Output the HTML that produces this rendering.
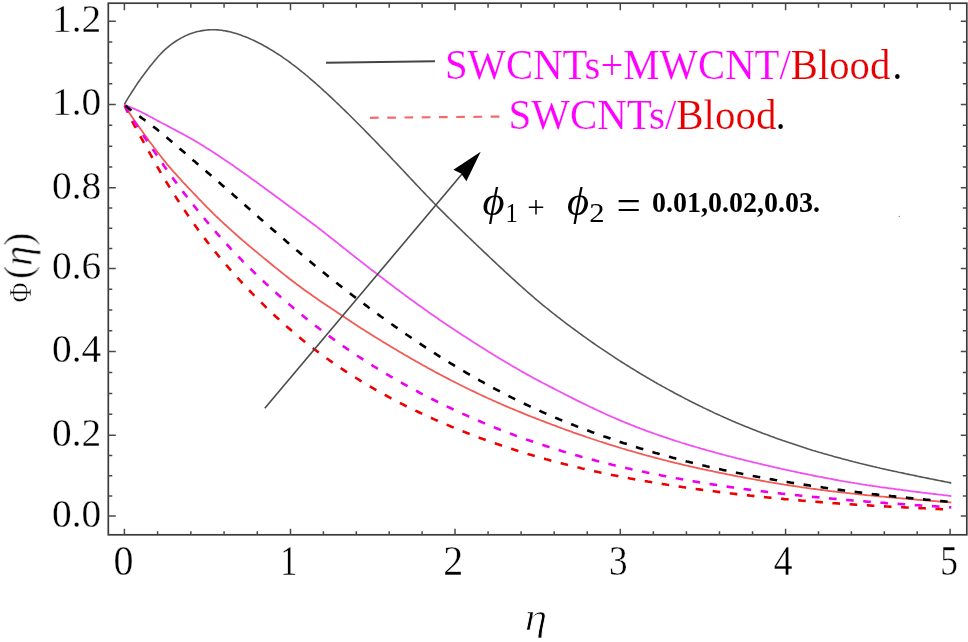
<!DOCTYPE html>
<html><head><meta charset="utf-8"><style>
html,body{margin:0;padding:0;background:#fff;overflow:hidden;}
svg{display:block;font-family:"Liberation Serif",serif;}
text{stroke:#fff;stroke-width:0.35px;}
#leg1,#leg2{stroke-width:0.2px;}
#ylab text{stroke-width:0.6px;}
#xlab{stroke-width:0.8px;}
#ann text{stroke-width:0.0px;}
</style></head><body><svg width="968" height="642" viewBox="0 0 968 642"><defs><filter id="bl" x="0" y="0" width="100%" height="100%"><feGaussianBlur stdDeviation="0.45"/></filter></defs><g filter="url(#bl)"><rect width="968" height="642" fill="#fff"/><rect x="108.3" y="3.2" width="858.5" height="531.5999999999999" fill="none" stroke="#3a3a3a" stroke-width="1.7"/><path d="M124.40,534.8 V528.80 M124.40,3.2 V10.20 M157.62,534.8 V531.30 M157.62,3.2 V7.70 M190.84,534.8 V531.30 M190.84,3.2 V7.70 M224.06,534.8 V531.30 M224.06,3.2 V7.70 M257.28,534.8 V531.30 M257.28,3.2 V7.70 M290.50,534.8 V528.80 M290.50,3.2 V10.20 M323.40,534.8 V531.30 M323.40,3.2 V7.70 M356.30,534.8 V531.30 M356.30,3.2 V7.70 M389.20,534.8 V531.30 M389.20,3.2 V7.70 M422.10,534.8 V531.30 M422.10,3.2 V7.70 M455.00,534.8 V528.80 M455.00,3.2 V10.20 M488.06,534.8 V531.30 M488.06,3.2 V7.70 M521.12,534.8 V531.30 M521.12,3.2 V7.70 M554.18,534.8 V531.30 M554.18,3.2 V7.70 M587.24,534.8 V531.30 M587.24,3.2 V7.70 M620.30,534.8 V528.80 M620.30,3.2 V10.20 M653.36,534.8 V531.30 M653.36,3.2 V7.70 M686.42,534.8 V531.30 M686.42,3.2 V7.70 M719.48,534.8 V531.30 M719.48,3.2 V7.70 M752.54,534.8 V531.30 M752.54,3.2 V7.70 M785.60,534.8 V528.80 M785.60,3.2 V10.20 M818.50,534.8 V531.30 M818.50,3.2 V7.70 M851.40,534.8 V531.30 M851.40,3.2 V7.70 M884.30,534.8 V531.30 M884.30,3.2 V7.70 M917.20,534.8 V531.30 M917.20,3.2 V7.70 M950.10,534.8 V528.80 M950.10,3.2 V10.20 M108.3,516.10 H115.80 M966.8,516.10 H960.80 M108.3,495.88 H112.30 M966.8,495.88 H962.80 M108.3,475.65 H112.30 M966.8,475.65 H962.80 M108.3,455.43 H112.30 M966.8,455.43 H962.80 M108.3,435.20 H115.80 M966.8,435.20 H960.80 M108.3,414.30 H112.30 M966.8,414.30 H962.80 M108.3,393.40 H112.30 M966.8,393.40 H962.80 M108.3,372.50 H112.30 M966.8,372.50 H962.80 M108.3,351.60 H115.80 M966.8,351.60 H960.80 M108.3,330.85 H112.30 M966.8,330.85 H962.80 M108.3,310.10 H112.30 M966.8,310.10 H962.80 M108.3,289.35 H112.30 M966.8,289.35 H962.80 M108.3,268.60 H115.80 M966.8,268.60 H960.80 M108.3,248.40 H112.30 M966.8,248.40 H962.80 M108.3,228.20 H112.30 M966.8,228.20 H962.80 M108.3,208.00 H112.30 M966.8,208.00 H962.80 M108.3,187.80 H115.80 M966.8,187.80 H960.80 M108.3,166.98 H112.30 M966.8,166.98 H962.80 M108.3,146.15 H112.30 M966.8,146.15 H962.80 M108.3,125.33 H112.30 M966.8,125.33 H962.80 M108.3,104.50 H115.80 M966.8,104.50 H960.80 M108.3,83.70 H112.30 M966.8,83.70 H962.80 M108.3,62.90 H112.30 M966.8,62.90 H962.80 M108.3,42.10 H112.30 M966.8,42.10 H962.80 M108.3,21.30 H115.80 M966.8,21.30 H960.80" stroke="#4a4a4a" stroke-width="1.5" fill="none"/><path id="black_solid" d="M124.4,104.5 L125.9,101.7 L127.4,99.1 L128.9,96.7 L130.4,94.3 L131.9,92.0 L133.4,89.7 L134.9,87.3 L136.4,85.1 L137.9,82.8 L139.4,80.7 L140.9,78.6 L142.4,76.6 L143.9,74.5 L145.4,72.5 L146.9,70.5 L148.4,68.6 L149.9,66.6 L151.4,64.7 L152.9,62.9 L154.4,61.1 L155.9,59.3 L157.4,57.5 L158.9,55.8 L160.4,54.2 L161.9,52.6 L163.4,51.1 L164.9,49.7 L166.4,48.4 L167.9,47.1 L169.4,45.8 L170.9,44.7 L172.4,43.6 L173.9,42.5 L175.4,41.5 L176.9,40.5 L178.4,39.6 L179.9,38.7 L181.4,37.9 L182.9,37.1 L184.4,36.3 L185.9,35.6 L187.4,34.9 L188.9,34.3 L190.4,33.7 L191.9,33.2 L193.4,32.7 L194.9,32.3 L196.4,31.8 L197.9,31.5 L199.4,31.2 L200.9,30.9 L202.4,30.6 L203.9,30.4 L205.4,30.2 L206.9,30.0 L208.4,29.9 L209.9,29.8 L211.4,29.8 L212.9,29.7 L214.4,29.8 L215.9,29.8 L217.4,29.9 L218.9,30.0 L220.4,30.2 L221.9,30.3 L223.4,30.6 L224.9,30.8 L226.4,31.1 L227.9,31.4 L229.4,31.7 L230.9,32.1 L232.4,32.5 L233.9,32.9 L235.4,33.3 L236.9,33.8 L238.4,34.3 L239.9,34.8 L241.4,35.3 L242.9,35.9 L244.4,36.4 L245.9,37.0 L247.4,37.6 L248.9,38.3 L250.4,38.9 L251.9,39.6 L253.4,40.3 L254.9,41.0 L256.4,41.7 L257.9,42.5 L259.4,43.3 L260.9,44.0 L262.4,44.8 L263.9,45.7 L265.4,46.5 L266.9,47.3 L268.4,48.2 L269.9,49.1 L271.4,50.0 L272.9,50.9 L274.4,51.8 L275.9,52.8 L277.4,53.8 L278.9,54.7 L280.4,55.7 L281.9,56.7 L283.4,57.8 L284.9,58.8 L286.4,59.9 L287.9,60.9 L289.4,62.0 L290.9,63.1 L292.4,64.3 L293.9,65.4 L295.4,66.5 L296.9,67.7 L298.4,68.9 L299.9,70.1 L301.4,71.3 L302.9,72.5 L304.4,73.7 L305.9,75.0 L307.4,76.2 L308.9,77.5 L310.4,78.8 L311.9,80.1 L313.4,81.4 L314.9,82.7 L316.4,84.0 L317.9,85.4 L319.4,86.7 L320.9,88.0 L322.4,89.4 L323.9,90.8 L325.4,92.1 L326.9,93.5 L328.4,94.9 L329.9,96.3 L331.4,97.7 L332.9,99.1 L334.4,100.5 L335.9,102.0 L337.4,103.4 L338.9,104.8 L340.4,106.3 L341.9,107.7 L343.4,109.2 L344.9,110.6 L346.4,112.1 L347.9,113.5 L349.4,115.0 L350.9,116.5 L352.4,118.0 L353.9,119.5 L355.4,121.0 L356.9,122.5 L358.4,124.0 L359.9,125.5 L361.4,127.0 L362.9,128.5 L364.4,130.0 L365.9,131.6 L367.4,133.1 L368.9,134.6 L370.4,136.2 L371.9,137.7 L373.4,139.3 L374.9,140.8 L376.4,142.4 L377.9,143.9 L379.4,145.5 L380.9,147.1 L382.4,148.6 L383.9,150.2 L385.4,151.8 L386.9,153.3 L388.4,154.9 L389.9,156.5 L391.4,158.1 L392.9,159.7 L394.4,161.2 L395.9,162.8 L397.4,164.4 L398.9,166.0 L400.4,167.6 L401.9,169.2 L403.4,170.8 L404.9,172.4 L406.4,174.0 L407.9,175.6 L409.4,177.2 L410.9,178.8 L412.4,180.4 L413.9,182.0 L415.4,183.6 L416.9,185.2 L418.4,186.8 L419.9,188.4 L421.4,190.0 L422.9,191.5 L424.4,193.1 L425.9,194.7 L427.4,196.2 L428.9,197.8 L430.4,199.4 L431.9,200.9 L433.4,202.5 L434.9,204.0 L436.4,205.5 L437.9,207.1 L439.4,208.6 L440.9,210.1 L442.4,211.6 L443.9,213.1 L445.4,214.6 L446.9,216.1 L448.4,217.6 L449.9,219.0 L451.4,220.5 L452.9,222.0 L454.4,223.4 L455.9,224.9 L457.4,226.4 L458.9,227.8 L460.4,229.3 L461.9,230.7 L463.4,232.2 L464.9,233.6 L466.4,235.1 L467.9,236.5 L469.4,238.0 L470.9,239.4 L472.4,240.8 L473.9,242.3 L475.4,243.7 L476.9,245.2 L478.4,246.6 L479.9,248.0 L481.4,249.4 L482.9,250.9 L484.4,252.3 L485.9,253.7 L487.4,255.1 L488.9,256.5 L490.4,258.0 L491.9,259.4 L493.4,260.8 L494.9,262.2 L496.4,263.6 L497.9,265.0 L499.4,266.4 L500.9,267.8 L502.4,269.2 L503.9,270.6 L505.4,272.0 L506.9,273.3 L508.4,274.7 L509.9,276.1 L511.4,277.5 L512.9,278.9 L514.4,280.2 L515.9,281.6 L517.4,282.9 L518.9,284.3 L520.4,285.7 L521.9,287.0 L523.4,288.3 L524.9,289.7 L526.4,291.0 L527.9,292.3 L529.4,293.6 L530.9,294.9 L532.4,296.2 L533.9,297.5 L535.4,298.8 L536.9,300.1 L538.4,301.3 L539.9,302.6 L541.4,303.8 L542.9,305.1 L544.4,306.3 L545.9,307.5 L547.4,308.7 L548.9,309.9 L550.4,311.2 L551.9,312.3 L553.4,313.5 L554.9,314.7 L556.4,315.9 L557.9,317.1 L559.4,318.2 L560.9,319.4 L562.4,320.5 L563.9,321.7 L565.4,322.8 L566.9,324.0 L568.4,325.1 L569.9,326.2 L571.4,327.3 L572.9,328.4 L574.4,329.5 L575.9,330.6 L577.4,331.7 L578.9,332.8 L580.4,333.9 L581.9,335.0 L583.4,336.1 L584.9,337.2 L586.4,338.2 L587.9,339.3 L589.4,340.4 L590.9,341.4 L592.4,342.5 L593.9,343.5 L595.4,344.6 L596.9,345.6 L598.4,346.6 L599.9,347.7 L601.4,348.7 L602.9,349.7 L604.4,350.7 L605.9,351.7 L607.4,352.7 L608.9,353.7 L610.4,354.7 L611.9,355.7 L613.4,356.7 L614.9,357.7 L616.4,358.6 L617.9,359.6 L619.4,360.6 L620.9,361.5 L622.4,362.5 L623.9,363.4 L625.4,364.4 L626.9,365.3 L628.4,366.2 L629.9,367.2 L631.4,368.1 L632.9,369.0 L634.4,369.9 L635.9,370.8 L637.4,371.8 L638.9,372.7 L640.4,373.6 L641.9,374.5 L643.4,375.4 L644.9,376.2 L646.4,377.1 L647.9,378.0 L649.4,378.9 L650.9,379.8 L652.4,380.6 L653.9,381.5 L655.4,382.4 L656.9,383.2 L658.4,384.1 L659.9,384.9 L661.4,385.8 L662.9,386.6 L664.4,387.4 L665.9,388.3 L667.4,389.1 L668.9,389.9 L670.4,390.7 L671.9,391.5 L673.4,392.3 L674.9,393.2 L676.4,394.0 L677.9,394.8 L679.4,395.5 L680.9,396.3 L682.4,397.1 L683.9,397.9 L685.4,398.7 L686.9,399.4 L688.4,400.2 L689.9,401.0 L691.4,401.7 L692.9,402.5 L694.4,403.2 L695.9,404.0 L697.4,404.7 L698.9,405.5 L700.4,406.2 L701.9,406.9 L703.4,407.7 L704.9,408.4 L706.4,409.1 L707.9,409.8 L709.4,410.5 L710.9,411.2 L712.4,411.9 L713.9,412.7 L715.4,413.4 L716.9,414.0 L718.4,414.7 L719.9,415.4 L721.4,416.1 L722.9,416.8 L724.4,417.5 L725.9,418.1 L727.4,418.8 L728.9,419.5 L730.4,420.1 L731.9,420.8 L733.4,421.4 L734.9,422.0 L736.4,422.7 L737.9,423.3 L739.4,423.9 L740.9,424.6 L742.4,425.2 L743.9,425.8 L745.4,426.4 L746.9,427.0 L748.4,427.6 L749.9,428.2 L751.4,428.8 L752.9,429.4 L754.4,430.0 L755.9,430.6 L757.4,431.2 L758.9,431.7 L760.4,432.3 L761.9,432.9 L763.4,433.5 L764.9,434.0 L766.4,434.6 L767.9,435.1 L769.4,435.7 L770.9,436.3 L772.4,436.8 L773.9,437.3 L775.4,437.9 L776.9,438.4 L778.4,439.0 L779.9,439.5 L781.4,440.0 L782.9,440.6 L784.4,441.1 L785.9,441.6 L787.4,442.1 L788.9,442.6 L790.4,443.1 L791.9,443.6 L793.4,444.1 L794.9,444.6 L796.4,445.1 L797.9,445.6 L799.4,446.1 L800.9,446.6 L802.4,447.1 L803.9,447.6 L805.4,448.0 L806.9,448.5 L808.4,449.0 L809.9,449.4 L811.4,449.9 L812.9,450.4 L814.4,450.8 L815.9,451.3 L817.4,451.7 L818.9,452.2 L820.4,452.6 L821.9,453.0 L823.4,453.5 L824.9,453.9 L826.4,454.3 L827.9,454.8 L829.4,455.2 L830.9,455.6 L832.4,456.0 L833.9,456.5 L835.4,456.9 L836.9,457.3 L838.4,457.7 L839.9,458.1 L841.4,458.5 L842.9,458.9 L844.4,459.3 L845.9,459.7 L847.4,460.1 L848.9,460.5 L850.4,460.9 L851.9,461.3 L853.4,461.7 L854.9,462.0 L856.4,462.4 L857.9,462.8 L859.4,463.2 L860.9,463.5 L862.4,463.9 L863.9,464.3 L865.4,464.6 L866.9,465.0 L868.4,465.4 L869.9,465.7 L871.4,466.1 L872.9,466.4 L874.4,466.8 L875.9,467.1 L877.4,467.5 L878.9,467.8 L880.4,468.2 L881.9,468.5 L883.4,468.9 L884.9,469.2 L886.4,469.5 L887.9,469.9 L889.4,470.2 L890.9,470.5 L892.4,470.9 L893.9,471.2 L895.4,471.5 L896.9,471.8 L898.4,472.2 L899.9,472.5 L901.4,472.8 L902.9,473.1 L904.4,473.4 L905.9,473.8 L907.4,474.1 L908.9,474.4 L910.4,474.7 L911.9,475.0 L913.4,475.3 L914.9,475.6 L916.4,475.9 L917.9,476.3 L919.4,476.6 L920.9,476.9 L922.4,477.2 L923.9,477.5 L925.4,477.8 L926.9,478.1 L928.4,478.4 L929.9,478.7 L931.4,479.0 L932.9,479.3 L934.4,479.6 L935.9,479.9 L937.4,480.2 L938.9,480.5 L940.4,480.8 L941.9,481.1 L943.4,481.4 L944.9,481.7 L946.4,482.0 L947.9,482.3 L949.4,482.6 L950.9,482.9 L951.3,482.9" stroke="#555555" stroke-width="1.6" fill="none" stroke-linejoin="round"/><path id="magenta_solid" d="M124.4,104.5 L125.9,105.2 L127.4,105.9 L128.9,106.5 L130.4,107.2 L131.9,107.8 L133.4,108.4 L134.9,109.1 L136.4,109.8 L137.9,110.4 L139.4,111.1 L140.9,111.8 L142.4,112.6 L143.9,113.3 L145.4,114.1 L146.9,114.9 L148.4,115.7 L149.9,116.5 L151.4,117.3 L152.9,118.1 L154.4,119.0 L155.9,119.8 L157.4,120.6 L158.9,121.4 L160.4,122.2 L161.9,123.0 L163.4,123.7 L164.9,124.5 L166.4,125.3 L167.9,126.1 L169.4,126.9 L170.9,127.7 L172.4,128.5 L173.9,129.3 L175.4,130.1 L176.9,130.9 L178.4,131.7 L179.9,132.5 L181.4,133.3 L182.9,134.1 L184.4,135.0 L185.9,135.8 L187.4,136.6 L188.9,137.5 L190.4,138.3 L191.9,139.1 L193.4,140.0 L194.9,140.9 L196.4,141.7 L197.9,142.6 L199.4,143.5 L200.9,144.4 L202.4,145.3 L203.9,146.3 L205.4,147.2 L206.9,148.2 L208.4,149.1 L209.9,150.1 L211.4,151.1 L212.9,152.0 L214.4,153.0 L215.9,154.0 L217.4,155.0 L218.9,156.0 L220.4,157.0 L221.9,158.0 L223.4,159.0 L224.9,160.0 L226.4,161.0 L227.9,162.0 L229.4,163.0 L230.9,164.1 L232.4,165.1 L233.9,166.1 L235.4,167.2 L236.9,168.2 L238.4,169.3 L239.9,170.3 L241.4,171.4 L242.9,172.4 L244.4,173.5 L245.9,174.6 L247.4,175.6 L248.9,176.7 L250.4,177.8 L251.9,178.9 L253.4,179.9 L254.9,181.0 L256.4,182.1 L257.9,183.2 L259.4,184.3 L260.9,185.4 L262.4,186.5 L263.9,187.6 L265.4,188.7 L266.9,189.8 L268.4,190.9 L269.9,192.0 L271.4,193.1 L272.9,194.2 L274.4,195.3 L275.9,196.4 L277.4,197.5 L278.9,198.6 L280.4,199.7 L281.9,200.8 L283.4,202.0 L284.9,203.1 L286.4,204.2 L287.9,205.3 L289.4,206.4 L290.9,207.5 L292.4,208.6 L293.9,209.7 L295.4,210.8 L296.9,211.9 L298.4,213.0 L299.9,214.2 L301.4,215.3 L302.9,216.4 L304.4,217.5 L305.9,218.6 L307.4,219.7 L308.9,220.8 L310.4,221.9 L311.9,223.0 L313.4,224.2 L314.9,225.3 L316.4,226.4 L317.9,227.6 L319.4,228.7 L320.9,229.9 L322.4,231.1 L323.9,232.2 L325.4,233.4 L326.9,234.6 L328.4,235.8 L329.9,237.0 L331.4,238.2 L332.9,239.3 L334.4,240.5 L335.9,241.7 L337.4,242.9 L338.9,244.1 L340.4,245.3 L341.9,246.5 L343.4,247.7 L344.9,248.9 L346.4,250.1 L347.9,251.3 L349.4,252.5 L350.9,253.7 L352.4,254.9 L353.9,256.1 L355.4,257.2 L356.9,258.4 L358.4,259.6 L359.9,260.8 L361.4,261.9 L362.9,263.1 L364.4,264.2 L365.9,265.4 L367.4,266.6 L368.9,267.7 L370.4,268.9 L371.9,270.0 L373.4,271.2 L374.9,272.3 L376.4,273.5 L377.9,274.6 L379.4,275.8 L380.9,276.9 L382.4,278.1 L383.9,279.2 L385.4,280.4 L386.9,281.5 L388.4,282.7 L389.9,283.8 L391.4,285.0 L392.9,286.1 L394.4,287.2 L395.9,288.4 L397.4,289.5 L398.9,290.6 L400.4,291.7 L401.9,292.8 L403.4,293.9 L404.9,295.1 L406.4,296.2 L407.9,297.3 L409.4,298.4 L410.9,299.5 L412.4,300.6 L413.9,301.6 L415.4,302.7 L416.9,303.8 L418.4,304.9 L419.9,306.0 L421.4,307.1 L422.9,308.1 L424.4,309.2 L425.9,310.3 L427.4,311.3 L428.9,312.4 L430.4,313.4 L431.9,314.5 L433.4,315.5 L434.9,316.6 L436.4,317.6 L437.9,318.6 L439.4,319.7 L440.9,320.7 L442.4,321.7 L443.9,322.7 L445.4,323.7 L446.9,324.7 L448.4,325.8 L449.9,326.8 L451.4,327.8 L452.9,328.8 L454.4,329.8 L455.9,330.7 L457.4,331.7 L458.9,332.7 L460.4,333.7 L461.9,334.7 L463.4,335.7 L464.9,336.6 L466.4,337.6 L467.9,338.6 L469.4,339.5 L470.9,340.5 L472.4,341.5 L473.9,342.4 L475.4,343.4 L476.9,344.3 L478.4,345.3 L479.9,346.2 L481.4,347.2 L482.9,348.1 L484.4,349.1 L485.9,350.0 L487.4,350.9 L488.9,351.9 L490.4,352.8 L491.9,353.7 L493.4,354.7 L494.9,355.6 L496.4,356.5 L497.9,357.4 L499.4,358.3 L500.9,359.2 L502.4,360.1 L503.9,361.0 L505.4,361.9 L506.9,362.8 L508.4,363.7 L509.9,364.6 L511.4,365.5 L512.9,366.4 L514.4,367.2 L515.9,368.1 L517.4,369.0 L518.9,369.8 L520.4,370.7 L521.9,371.6 L523.4,372.4 L524.9,373.2 L526.4,374.1 L527.9,374.9 L529.4,375.7 L530.9,376.5 L532.4,377.4 L533.9,378.2 L535.4,379.0 L536.9,379.8 L538.4,380.6 L539.9,381.4 L541.4,382.2 L542.9,383.0 L544.4,383.7 L545.9,384.5 L547.4,385.3 L548.9,386.1 L550.4,386.9 L551.9,387.6 L553.4,388.4 L554.9,389.2 L556.4,390.0 L557.9,390.7 L559.4,391.5 L560.9,392.3 L562.4,393.0 L563.9,393.8 L565.4,394.6 L566.9,395.3 L568.4,396.1 L569.9,396.8 L571.4,397.6 L572.9,398.4 L574.4,399.1 L575.9,399.9 L577.4,400.6 L578.9,401.4 L580.4,402.1 L581.9,402.8 L583.4,403.6 L584.9,404.3 L586.4,405.0 L587.9,405.8 L589.4,406.5 L590.9,407.2 L592.4,407.9 L593.9,408.6 L595.4,409.3 L596.9,410.0 L598.4,410.7 L599.9,411.4 L601.4,412.1 L602.9,412.8 L604.4,413.5 L605.9,414.2 L607.4,414.9 L608.9,415.5 L610.4,416.2 L611.9,416.8 L613.4,417.5 L614.9,418.1 L616.4,418.8 L617.9,419.4 L619.4,420.1 L620.9,420.7 L622.4,421.3 L623.9,422.0 L625.4,422.6 L626.9,423.2 L628.4,423.8 L629.9,424.4 L631.4,425.0 L632.9,425.6 L634.4,426.2 L635.9,426.8 L637.4,427.4 L638.9,427.9 L640.4,428.5 L641.9,429.1 L643.4,429.6 L644.9,430.2 L646.4,430.8 L647.9,431.3 L649.4,431.9 L650.9,432.4 L652.4,432.9 L653.9,433.5 L655.4,434.0 L656.9,434.5 L658.4,435.1 L659.9,435.6 L661.4,436.1 L662.9,436.6 L664.4,437.1 L665.9,437.6 L667.4,438.1 L668.9,438.6 L670.4,439.1 L671.9,439.6 L673.4,440.1 L674.9,440.6 L676.4,441.1 L677.9,441.5 L679.4,442.0 L680.9,442.5 L682.4,443.0 L683.9,443.4 L685.4,443.9 L686.9,444.3 L688.4,444.8 L689.9,445.3 L691.4,445.7 L692.9,446.2 L694.4,446.6 L695.9,447.0 L697.4,447.5 L698.9,447.9 L700.4,448.4 L701.9,448.8 L703.4,449.2 L704.9,449.6 L706.4,450.1 L707.9,450.5 L709.4,450.9 L710.9,451.3 L712.4,451.7 L713.9,452.1 L715.4,452.6 L716.9,453.0 L718.4,453.4 L719.9,453.8 L721.4,454.2 L722.9,454.6 L724.4,455.0 L725.9,455.4 L727.4,455.8 L728.9,456.1 L730.4,456.5 L731.9,456.9 L733.4,457.3 L734.9,457.7 L736.4,458.1 L737.9,458.5 L739.4,458.8 L740.9,459.2 L742.4,459.6 L743.9,460.0 L745.4,460.3 L746.9,460.7 L748.4,461.1 L749.9,461.4 L751.4,461.8 L752.9,462.2 L754.4,462.5 L755.9,462.9 L757.4,463.2 L758.9,463.6 L760.4,463.9 L761.9,464.3 L763.4,464.7 L764.9,465.0 L766.4,465.4 L767.9,465.7 L769.4,466.0 L770.9,466.4 L772.4,466.7 L773.9,467.1 L775.4,467.4 L776.9,467.8 L778.4,468.1 L779.9,468.4 L781.4,468.8 L782.9,469.1 L784.4,469.4 L785.9,469.8 L787.4,470.1 L788.9,470.4 L790.4,470.8 L791.9,471.1 L793.4,471.4 L794.9,471.7 L796.4,472.0 L797.9,472.4 L799.4,472.7 L800.9,473.0 L802.4,473.3 L803.9,473.6 L805.4,473.9 L806.9,474.2 L808.4,474.5 L809.9,474.9 L811.4,475.2 L812.9,475.5 L814.4,475.8 L815.9,476.1 L817.4,476.4 L818.9,476.7 L820.4,476.9 L821.9,477.2 L823.4,477.5 L824.9,477.8 L826.4,478.1 L827.9,478.4 L829.4,478.7 L830.9,478.9 L832.4,479.2 L833.9,479.5 L835.4,479.8 L836.9,480.0 L838.4,480.3 L839.9,480.6 L841.4,480.9 L842.9,481.1 L844.4,481.4 L845.9,481.6 L847.4,481.9 L848.9,482.1 L850.4,482.4 L851.9,482.7 L853.4,482.9 L854.9,483.2 L856.4,483.4 L857.9,483.6 L859.4,483.9 L860.9,484.1 L862.4,484.4 L863.9,484.6 L865.4,484.8 L866.9,485.1 L868.4,485.3 L869.9,485.5 L871.4,485.7 L872.9,486.0 L874.4,486.2 L875.9,486.4 L877.4,486.6 L878.9,486.8 L880.4,487.1 L881.9,487.3 L883.4,487.5 L884.9,487.7 L886.4,487.9 L887.9,488.1 L889.4,488.3 L890.9,488.5 L892.4,488.7 L893.9,488.9 L895.4,489.1 L896.9,489.3 L898.4,489.5 L899.9,489.7 L901.4,489.9 L902.9,490.1 L904.4,490.3 L905.9,490.5 L907.4,490.7 L908.9,490.9 L910.4,491.1 L911.9,491.3 L913.4,491.5 L914.9,491.6 L916.4,491.8 L917.9,492.0 L919.4,492.2 L920.9,492.4 L922.4,492.6 L923.9,492.8 L925.4,492.9 L926.9,493.1 L928.4,493.3 L929.9,493.5 L931.4,493.7 L932.9,493.8 L934.4,494.0 L935.9,494.2 L937.4,494.4 L938.9,494.6 L940.4,494.7 L941.9,494.9 L943.4,495.1 L944.9,495.3 L946.4,495.4 L947.9,495.6 L949.4,495.8 L950.9,496.0 L951.3,496.0" stroke="#f24ff2" stroke-width="1.8" fill="none" stroke-linejoin="round"/><path id="red_solid" d="M124.4,104.5 L125.9,107.3 L127.4,109.9 L128.9,112.3 L130.4,114.6 L131.9,116.8 L133.4,119.0 L134.9,121.1 L136.4,123.2 L137.9,125.3 L139.4,127.4 L140.9,129.5 L142.4,131.6 L143.9,133.7 L145.4,135.8 L146.9,137.8 L148.4,139.9 L149.9,142.0 L151.4,144.0 L152.9,146.0 L154.4,148.0 L155.9,150.0 L157.4,152.0 L158.9,153.9 L160.4,155.8 L161.9,157.7 L163.4,159.6 L164.9,161.4 L166.4,163.3 L167.9,165.1 L169.4,166.8 L170.9,168.6 L172.4,170.3 L173.9,172.1 L175.4,173.7 L176.9,175.4 L178.4,177.1 L179.9,178.7 L181.4,180.3 L182.9,182.0 L184.4,183.6 L185.9,185.2 L187.4,186.8 L188.9,188.3 L190.4,189.9 L191.9,191.5 L193.4,193.1 L194.9,194.6 L196.4,196.2 L197.9,197.8 L199.4,199.4 L200.9,200.9 L202.4,202.5 L203.9,204.1 L205.4,205.6 L206.9,207.2 L208.4,208.7 L209.9,210.2 L211.4,211.7 L212.9,213.2 L214.4,214.6 L215.9,216.1 L217.4,217.5 L218.9,218.9 L220.4,220.3 L221.9,221.7 L223.4,223.1 L224.9,224.5 L226.4,225.8 L227.9,227.2 L229.4,228.6 L230.9,229.9 L232.4,231.3 L233.9,232.6 L235.4,234.0 L236.9,235.3 L238.4,236.6 L239.9,238.0 L241.4,239.3 L242.9,240.6 L244.4,241.8 L245.9,243.1 L247.4,244.4 L248.9,245.7 L250.4,246.9 L251.9,248.2 L253.4,249.4 L254.9,250.7 L256.4,251.9 L257.9,253.1 L259.4,254.4 L260.9,255.6 L262.4,256.9 L263.9,258.1 L265.4,259.3 L266.9,260.5 L268.4,261.8 L269.9,263.0 L271.4,264.2 L272.9,265.5 L274.4,266.7 L275.9,267.9 L277.4,269.1 L278.9,270.3 L280.4,271.5 L281.9,272.7 L283.4,273.9 L284.9,275.1 L286.4,276.3 L287.9,277.5 L289.4,278.7 L290.9,279.8 L292.4,281.0 L293.9,282.1 L295.4,283.2 L296.9,284.4 L298.4,285.5 L299.9,286.6 L301.4,287.7 L302.9,288.8 L304.4,289.9 L305.9,290.9 L307.4,292.0 L308.9,293.1 L310.4,294.1 L311.9,295.2 L313.4,296.2 L314.9,297.3 L316.4,298.3 L317.9,299.4 L319.4,300.4 L320.9,301.4 L322.4,302.5 L323.9,303.5 L325.4,304.5 L326.9,305.5 L328.4,306.6 L329.9,307.6 L331.4,308.6 L332.9,309.6 L334.4,310.6 L335.9,311.6 L337.4,312.6 L338.9,313.6 L340.4,314.6 L341.9,315.6 L343.4,316.6 L344.9,317.6 L346.4,318.6 L347.9,319.6 L349.4,320.6 L350.9,321.6 L352.4,322.6 L353.9,323.5 L355.4,324.5 L356.9,325.5 L358.4,326.4 L359.9,327.4 L361.4,328.4 L362.9,329.3 L364.4,330.3 L365.9,331.2 L367.4,332.2 L368.9,333.1 L370.4,334.1 L371.9,335.0 L373.4,335.9 L374.9,336.9 L376.4,337.8 L377.9,338.7 L379.4,339.6 L380.9,340.6 L382.4,341.5 L383.9,342.4 L385.4,343.3 L386.9,344.2 L388.4,345.1 L389.9,346.0 L391.4,346.9 L392.9,347.8 L394.4,348.7 L395.9,349.6 L397.4,350.5 L398.9,351.4 L400.4,352.3 L401.9,353.1 L403.4,354.0 L404.9,354.9 L406.4,355.8 L407.9,356.6 L409.4,357.5 L410.9,358.4 L412.4,359.2 L413.9,360.1 L415.4,360.9 L416.9,361.8 L418.4,362.6 L419.9,363.5 L421.4,364.3 L422.9,365.2 L424.4,366.0 L425.9,366.8 L427.4,367.7 L428.9,368.5 L430.4,369.3 L431.9,370.1 L433.4,370.9 L434.9,371.8 L436.4,372.6 L437.9,373.4 L439.4,374.2 L440.9,375.0 L442.4,375.8 L443.9,376.6 L445.4,377.3 L446.9,378.1 L448.4,378.9 L449.9,379.7 L451.4,380.5 L452.9,381.2 L454.4,382.0 L455.9,382.8 L457.4,383.5 L458.9,384.3 L460.4,385.0 L461.9,385.8 L463.4,386.5 L464.9,387.3 L466.4,388.0 L467.9,388.7 L469.4,389.5 L470.9,390.2 L472.4,390.9 L473.9,391.6 L475.4,392.3 L476.9,393.1 L478.4,393.8 L479.9,394.5 L481.4,395.2 L482.9,395.9 L484.4,396.6 L485.9,397.3 L487.4,398.0 L488.9,398.6 L490.4,399.3 L491.9,400.0 L493.4,400.7 L494.9,401.3 L496.4,402.0 L497.9,402.7 L499.4,403.3 L500.9,404.0 L502.4,404.6 L503.9,405.3 L505.4,405.9 L506.9,406.6 L508.4,407.2 L509.9,407.9 L511.4,408.5 L512.9,409.1 L514.4,409.7 L515.9,410.4 L517.4,411.0 L518.9,411.6 L520.4,412.2 L521.9,412.8 L523.4,413.4 L524.9,414.1 L526.4,414.7 L527.9,415.3 L529.4,415.9 L530.9,416.5 L532.4,417.1 L533.9,417.6 L535.4,418.2 L536.9,418.8 L538.4,419.4 L539.9,420.0 L541.4,420.6 L542.9,421.1 L544.4,421.7 L545.9,422.3 L547.4,422.9 L548.9,423.4 L550.4,424.0 L551.9,424.6 L553.4,425.1 L554.9,425.7 L556.4,426.2 L557.9,426.8 L559.4,427.4 L560.9,427.9 L562.4,428.5 L563.9,429.0 L565.4,429.6 L566.9,430.1 L568.4,430.6 L569.9,431.2 L571.4,431.7 L572.9,432.3 L574.4,432.8 L575.9,433.3 L577.4,433.8 L578.9,434.4 L580.4,434.9 L581.9,435.4 L583.4,435.9 L584.9,436.4 L586.4,437.0 L587.9,437.5 L589.4,438.0 L590.9,438.5 L592.4,439.0 L593.9,439.5 L595.4,440.0 L596.9,440.5 L598.4,441.0 L599.9,441.5 L601.4,441.9 L602.9,442.4 L604.4,442.9 L605.9,443.4 L607.4,443.9 L608.9,444.3 L610.4,444.8 L611.9,445.3 L613.4,445.7 L614.9,446.2 L616.4,446.7 L617.9,447.1 L619.4,447.6 L620.9,448.0 L622.4,448.5 L623.9,448.9 L625.4,449.4 L626.9,449.8 L628.4,450.3 L629.9,450.7 L631.4,451.1 L632.9,451.6 L634.4,452.0 L635.9,452.4 L637.4,452.9 L638.9,453.3 L640.4,453.7 L641.9,454.1 L643.4,454.6 L644.9,455.0 L646.4,455.4 L647.9,455.8 L649.4,456.2 L650.9,456.6 L652.4,457.0 L653.9,457.4 L655.4,457.8 L656.9,458.2 L658.4,458.6 L659.9,459.0 L661.4,459.4 L662.9,459.8 L664.4,460.1 L665.9,460.5 L667.4,460.9 L668.9,461.3 L670.4,461.7 L671.9,462.0 L673.4,462.4 L674.9,462.8 L676.4,463.1 L677.9,463.5 L679.4,463.8 L680.9,464.2 L682.4,464.6 L683.9,464.9 L685.4,465.3 L686.9,465.6 L688.4,466.0 L689.9,466.3 L691.4,466.6 L692.9,467.0 L694.4,467.3 L695.9,467.7 L697.4,468.0 L698.9,468.3 L700.4,468.7 L701.9,469.0 L703.4,469.3 L704.9,469.6 L706.4,470.0 L707.9,470.3 L709.4,470.6 L710.9,470.9 L712.4,471.2 L713.9,471.6 L715.4,471.9 L716.9,472.2 L718.4,472.5 L719.9,472.8 L721.4,473.1 L722.9,473.4 L724.4,473.7 L725.9,474.0 L727.4,474.3 L728.9,474.6 L730.4,474.9 L731.9,475.2 L733.4,475.5 L734.9,475.8 L736.4,476.1 L737.9,476.4 L739.4,476.6 L740.9,476.9 L742.4,477.2 L743.9,477.5 L745.4,477.8 L746.9,478.1 L748.4,478.3 L749.9,478.6 L751.4,478.9 L752.9,479.2 L754.4,479.4 L755.9,479.7 L757.4,480.0 L758.9,480.2 L760.4,480.5 L761.9,480.8 L763.4,481.0 L764.9,481.3 L766.4,481.6 L767.9,481.8 L769.4,482.1 L770.9,482.3 L772.4,482.6 L773.9,482.8 L775.4,483.1 L776.9,483.3 L778.4,483.6 L779.9,483.8 L781.4,484.1 L782.9,484.3 L784.4,484.6 L785.9,484.8 L787.4,485.0 L788.9,485.3 L790.4,485.5 L791.9,485.7 L793.4,486.0 L794.9,486.2 L796.4,486.4 L797.9,486.6 L799.4,486.9 L800.9,487.1 L802.4,487.3 L803.9,487.5 L805.4,487.7 L806.9,488.0 L808.4,488.2 L809.9,488.4 L811.4,488.6 L812.9,488.8 L814.4,489.0 L815.9,489.2 L817.4,489.4 L818.9,489.6 L820.4,489.8 L821.9,490.0 L823.4,490.2 L824.9,490.4 L826.4,490.6 L827.9,490.8 L829.4,491.0 L830.9,491.1 L832.4,491.3 L833.9,491.5 L835.4,491.7 L836.9,491.9 L838.4,492.0 L839.9,492.2 L841.4,492.4 L842.9,492.6 L844.4,492.7 L845.9,492.9 L847.4,493.1 L848.9,493.2 L850.4,493.4 L851.9,493.6 L853.4,493.7 L854.9,493.9 L856.4,494.1 L857.9,494.2 L859.4,494.4 L860.9,494.5 L862.4,494.7 L863.9,494.8 L865.4,495.0 L866.9,495.1 L868.4,495.3 L869.9,495.4 L871.4,495.6 L872.9,495.7 L874.4,495.9 L875.9,496.0 L877.4,496.2 L878.9,496.3 L880.4,496.5 L881.9,496.6 L883.4,496.7 L884.9,496.9 L886.4,497.0 L887.9,497.2 L889.4,497.3 L890.9,497.4 L892.4,497.6 L893.9,497.7 L895.4,497.8 L896.9,498.0 L898.4,498.1 L899.9,498.2 L901.4,498.4 L902.9,498.5 L904.4,498.6 L905.9,498.7 L907.4,498.9 L908.9,499.0 L910.4,499.1 L911.9,499.3 L913.4,499.4 L914.9,499.5 L916.4,499.6 L917.9,499.8 L919.4,499.9 L920.9,500.0 L922.4,500.1 L923.9,500.2 L925.4,500.4 L926.9,500.5 L928.4,500.6 L929.9,500.7 L931.4,500.9 L932.9,501.0 L934.4,501.1 L935.9,501.2 L937.4,501.3 L938.9,501.5 L940.4,501.6 L941.9,501.7 L943.4,501.8 L944.9,501.9 L946.4,502.1 L947.9,502.2 L949.4,502.3 L950.9,502.4 L951.3,502.4" stroke="#f25a55" stroke-width="1.8" fill="none" stroke-linejoin="round"/><path id="red_dashed" d="M124.4,104.5 L125.9,108.3 L127.4,111.7 L128.9,114.9 L130.4,118.0 L131.9,120.9 L133.4,123.7 L134.9,126.5 L136.4,129.2 L137.9,132.0 L139.4,134.6 L140.9,137.3 L142.4,140.0 L143.9,142.6 L145.4,145.3 L146.9,148.0 L148.4,150.7 L149.9,153.4 L151.4,156.1 L152.9,158.8 L154.4,161.5 L155.9,164.2 L157.4,166.9 L158.9,169.5 L160.4,172.1 L161.9,174.6 L163.4,177.2 L164.9,179.6 L166.4,182.1 L167.9,184.5 L169.4,186.9 L170.9,189.3 L172.4,191.7 L173.9,194.1 L175.4,196.4 L176.9,198.7 L178.4,201.0 L179.9,203.3 L181.4,205.6 L182.9,207.9 L184.4,210.1 L185.9,212.3 L187.4,214.5 L188.9,216.7 L190.4,218.9 L191.9,221.0 L193.4,223.1 L194.9,225.2 L196.4,227.3 L197.9,229.4 L199.4,231.4 L200.9,233.5 L202.4,235.5 L203.9,237.5 L205.4,239.4 L206.9,241.4 L208.4,243.3 L209.9,245.2 L211.4,247.1 L212.9,249.0 L214.4,250.9 L215.9,252.7 L217.4,254.5 L218.9,256.4 L220.4,258.1 L221.9,259.9 L223.4,261.7 L224.9,263.5 L226.4,265.2 L227.9,266.9 L229.4,268.6 L230.9,270.3 L232.4,272.0 L233.9,273.7 L235.4,275.4 L236.9,277.0 L238.4,278.7 L239.9,280.3 L241.4,282.0 L242.9,283.6 L244.4,285.2 L245.9,286.8 L247.4,288.4 L248.9,290.0 L250.4,291.5 L251.9,293.1 L253.4,294.6 L254.9,296.2 L256.4,297.7 L257.9,299.2 L259.4,300.7 L260.9,302.2 L262.4,303.7 L263.9,305.2 L265.4,306.7 L266.9,308.1 L268.4,309.6 L269.9,311.0 L271.4,312.4 L272.9,313.9 L274.4,315.3 L275.9,316.7 L277.4,318.0 L278.9,319.4 L280.4,320.8 L281.9,322.2 L283.4,323.5 L284.9,324.8 L286.4,326.2 L287.9,327.5 L289.4,328.8 L290.9,330.1 L292.4,331.4 L293.9,332.7 L295.4,334.0 L296.9,335.2 L298.4,336.5 L299.9,337.7 L301.4,339.0 L302.9,340.2 L304.4,341.4 L305.9,342.6 L307.4,343.8 L308.9,345.0 L310.4,346.2 L311.9,347.3 L313.4,348.5 L314.9,349.6 L316.4,350.8 L317.9,351.9 L319.4,353.0 L320.9,354.1 L322.4,355.2 L323.9,356.3 L325.4,357.4 L326.9,358.5 L328.4,359.5 L329.9,360.6 L331.4,361.6 L332.9,362.7 L334.4,363.7 L335.9,364.7 L337.4,365.8 L338.9,366.8 L340.4,367.8 L341.9,368.8 L343.4,369.8 L344.9,370.8 L346.4,371.8 L347.9,372.8 L349.4,373.7 L350.9,374.7 L352.4,375.6 L353.9,376.6 L355.4,377.5 L356.9,378.5 L358.4,379.4 L359.9,380.3 L361.4,381.3 L362.9,382.2 L364.4,383.1 L365.9,384.0 L367.4,384.9 L368.9,385.8 L370.4,386.7 L371.9,387.6 L373.4,388.4 L374.9,389.3 L376.4,390.2 L377.9,391.0 L379.4,391.9 L380.9,392.7 L382.4,393.5 L383.9,394.4 L385.4,395.2 L386.9,396.0 L388.4,396.8 L389.9,397.7 L391.4,398.5 L392.9,399.3 L394.4,400.0 L395.9,400.8 L397.4,401.6 L398.9,402.4 L400.4,403.2 L401.9,403.9 L403.4,404.7 L404.9,405.5 L406.4,406.2 L407.9,406.9 L409.4,407.7 L410.9,408.4 L412.4,409.2 L413.9,409.9 L415.4,410.6 L416.9,411.3 L418.4,412.0 L419.9,412.7 L421.4,413.4 L422.9,414.1 L424.4,414.8 L425.9,415.5 L427.4,416.2 L428.9,416.9 L430.4,417.6 L431.9,418.2 L433.4,418.9 L434.9,419.6 L436.4,420.2 L437.9,420.9 L439.4,421.6 L440.9,422.2 L442.4,422.9 L443.9,423.5 L445.4,424.1 L446.9,424.8 L448.4,425.4 L449.9,426.0 L451.4,426.7 L452.9,427.3 L454.4,427.9 L455.9,428.5 L457.4,429.1 L458.9,429.7 L460.4,430.3 L461.9,430.9 L463.4,431.5 L464.9,432.1 L466.4,432.7 L467.9,433.3 L469.4,433.9 L470.9,434.5 L472.4,435.0 L473.9,435.6 L475.4,436.2 L476.9,436.7 L478.4,437.3 L479.9,437.9 L481.4,438.4 L482.9,439.0 L484.4,439.5 L485.9,440.1 L487.4,440.6 L488.9,441.1 L490.4,441.7 L491.9,442.2 L493.4,442.7 L494.9,443.2 L496.4,443.8 L497.9,444.3 L499.4,444.8 L500.9,445.3 L502.4,445.8 L503.9,446.3 L505.4,446.8 L506.9,447.3 L508.4,447.8 L509.9,448.3 L511.4,448.8 L512.9,449.3 L514.4,449.8 L515.9,450.2 L517.4,450.7 L518.9,451.2 L520.4,451.7 L521.9,452.1 L523.4,452.6 L524.9,453.0 L526.4,453.5 L527.9,454.0 L529.4,454.4 L530.9,454.8 L532.4,455.3 L533.9,455.7 L535.4,456.2 L536.9,456.6 L538.4,457.0 L539.9,457.5 L541.4,457.9 L542.9,458.3 L544.4,458.7 L545.9,459.2 L547.4,459.6 L548.9,460.0 L550.4,460.4 L551.9,460.8 L553.4,461.2 L554.9,461.6 L556.4,462.0 L557.9,462.4 L559.4,462.8 L560.9,463.2 L562.4,463.6 L563.9,464.0 L565.4,464.3 L566.9,464.7 L568.4,465.1 L569.9,465.5 L571.4,465.8 L572.9,466.2 L574.4,466.6 L575.9,466.9 L577.4,467.3 L578.9,467.6 L580.4,468.0 L581.9,468.4 L583.4,468.7 L584.9,469.1 L586.4,469.4 L587.9,469.7 L589.4,470.1 L590.9,470.4 L592.4,470.7 L593.9,471.1 L595.4,471.4 L596.9,471.7 L598.4,472.1 L599.9,472.4 L601.4,472.7 L602.9,473.0 L604.4,473.3 L605.9,473.6 L607.4,474.0 L608.9,474.3 L610.4,474.6 L611.9,474.9 L613.4,475.2 L614.9,475.5 L616.4,475.8 L617.9,476.1 L619.4,476.4 L620.9,476.7 L622.4,477.0 L623.9,477.2 L625.4,477.5 L626.9,477.8 L628.4,478.1 L629.9,478.4 L631.4,478.7 L632.9,478.9 L634.4,479.2 L635.9,479.5 L637.4,479.7 L638.9,480.0 L640.4,480.3 L641.9,480.5 L643.4,480.8 L644.9,481.1 L646.4,481.3 L647.9,481.6 L649.4,481.8 L650.9,482.1 L652.4,482.3 L653.9,482.6 L655.4,482.8 L656.9,483.1 L658.4,483.3 L659.9,483.6 L661.4,483.8 L662.9,484.1 L664.4,484.3 L665.9,484.5 L667.4,484.8 L668.9,485.0 L670.4,485.2 L671.9,485.5 L673.4,485.7 L674.9,485.9 L676.4,486.2 L677.9,486.4 L679.4,486.6 L680.9,486.8 L682.4,487.1 L683.9,487.3 L685.4,487.5 L686.9,487.7 L688.4,487.9 L689.9,488.1 L691.4,488.3 L692.9,488.6 L694.4,488.8 L695.9,489.0 L697.4,489.2 L698.9,489.4 L700.4,489.6 L701.9,489.8 L703.4,490.0 L704.9,490.2 L706.4,490.4 L707.9,490.6 L709.4,490.8 L710.9,491.0 L712.4,491.1 L713.9,491.3 L715.4,491.5 L716.9,491.7 L718.4,491.9 L719.9,492.1 L721.4,492.3 L722.9,492.5 L724.4,492.6 L725.9,492.8 L727.4,493.0 L728.9,493.2 L730.4,493.4 L731.9,493.5 L733.4,493.7 L734.9,493.9 L736.4,494.1 L737.9,494.2 L739.4,494.4 L740.9,494.6 L742.4,494.7 L743.9,494.9 L745.4,495.1 L746.9,495.2 L748.4,495.4 L749.9,495.6 L751.4,495.7 L752.9,495.9 L754.4,496.1 L755.9,496.2 L757.4,496.4 L758.9,496.5 L760.4,496.7 L761.9,496.8 L763.4,497.0 L764.9,497.2 L766.4,497.3 L767.9,497.5 L769.4,497.6 L770.9,497.8 L772.4,497.9 L773.9,498.1 L775.4,498.2 L776.9,498.3 L778.4,498.5 L779.9,498.6 L781.4,498.8 L782.9,498.9 L784.4,499.1 L785.9,499.2 L787.4,499.3 L788.9,499.5 L790.4,499.6 L791.9,499.8 L793.4,499.9 L794.9,500.0 L796.4,500.2 L797.9,500.3 L799.4,500.4 L800.9,500.5 L802.4,500.7 L803.9,500.8 L805.4,500.9 L806.9,501.1 L808.4,501.2 L809.9,501.3 L811.4,501.4 L812.9,501.6 L814.4,501.7 L815.9,501.8 L817.4,501.9 L818.9,502.0 L820.4,502.1 L821.9,502.3 L823.4,502.4 L824.9,502.5 L826.4,502.6 L827.9,502.7 L829.4,502.8 L830.9,502.9 L832.4,503.1 L833.9,503.2 L835.4,503.3 L836.9,503.4 L838.4,503.5 L839.9,503.6 L841.4,503.7 L842.9,503.8 L844.4,503.9 L845.9,504.0 L847.4,504.1 L848.9,504.2 L850.4,504.3 L851.9,504.4 L853.4,504.5 L854.9,504.6 L856.4,504.7 L857.9,504.8 L859.4,504.9 L860.9,505.0 L862.4,505.1 L863.9,505.2 L865.4,505.3 L866.9,505.3 L868.4,505.4 L869.9,505.5 L871.4,505.6 L872.9,505.7 L874.4,505.8 L875.9,505.9 L877.4,506.0 L878.9,506.0 L880.4,506.1 L881.9,506.2 L883.4,506.3 L884.9,506.4 L886.4,506.5 L887.9,506.5 L889.4,506.6 L890.9,506.7 L892.4,506.8 L893.9,506.9 L895.4,506.9 L896.9,507.0 L898.4,507.1 L899.9,507.2 L901.4,507.2 L902.9,507.3 L904.4,507.4 L905.9,507.5 L907.4,507.5 L908.9,507.6 L910.4,507.7 L911.9,507.8 L913.4,507.8 L914.9,507.9 L916.4,508.0 L917.9,508.1 L919.4,508.1 L920.9,508.2 L922.4,508.3 L923.9,508.3 L925.4,508.4 L926.9,508.5 L928.4,508.6 L929.9,508.6 L931.4,508.7 L932.9,508.8 L934.4,508.8 L935.9,508.9 L937.4,509.0 L938.9,509.0 L940.4,509.1 L941.9,509.2 L943.4,509.3 L944.9,509.3 L946.4,509.4 L947.9,509.5 L949.4,509.5 L950.9,509.6 L951.3,509.6" stroke="#ee0000" stroke-width="2.6" fill="none" stroke-linejoin="round" stroke-dasharray="7.6 9.6" stroke-dashoffset="-1.15"/><path id="magenta_dashed" d="M124.4,104.5 L125.9,107.7 L127.4,110.5 L128.9,113.2 L130.4,115.8 L131.9,118.2 L133.4,120.6 L134.9,122.9 L136.4,125.1 L137.9,127.4 L139.4,129.6 L140.9,131.8 L142.4,134.0 L143.9,136.2 L145.4,138.4 L146.9,140.6 L148.4,142.8 L149.9,145.0 L151.4,147.2 L152.9,149.4 L154.4,151.6 L155.9,153.9 L157.4,156.1 L158.9,158.3 L160.4,160.5 L161.9,162.7 L163.4,164.9 L164.9,167.0 L166.4,169.2 L167.9,171.3 L169.4,173.4 L170.9,175.5 L172.4,177.5 L173.9,179.6 L175.4,181.6 L176.9,183.7 L178.4,185.7 L179.9,187.7 L181.4,189.6 L182.9,191.6 L184.4,193.6 L185.9,195.5 L187.4,197.4 L188.9,199.3 L190.4,201.2 L191.9,203.1 L193.4,205.0 L194.9,206.9 L196.4,208.8 L197.9,210.6 L199.4,212.5 L200.9,214.3 L202.4,216.1 L203.9,217.9 L205.4,219.8 L206.9,221.5 L208.4,223.3 L209.9,225.1 L211.4,226.9 L212.9,228.6 L214.4,230.4 L215.9,232.1 L217.4,233.8 L218.9,235.5 L220.4,237.2 L221.9,238.9 L223.4,240.6 L224.9,242.2 L226.4,243.9 L227.9,245.5 L229.4,247.1 L230.9,248.8 L232.4,250.4 L233.9,251.9 L235.4,253.5 L236.9,255.1 L238.4,256.6 L239.9,258.2 L241.4,259.7 L242.9,261.3 L244.4,262.8 L245.9,264.3 L247.4,265.8 L248.9,267.3 L250.4,268.8 L251.9,270.2 L253.4,271.7 L254.9,273.1 L256.4,274.6 L257.9,276.0 L259.4,277.5 L260.9,278.9 L262.4,280.3 L263.9,281.7 L265.4,283.1 L266.9,284.5 L268.4,285.9 L269.9,287.3 L271.4,288.7 L272.9,290.0 L274.4,291.4 L275.9,292.7 L277.4,294.1 L278.9,295.4 L280.4,296.8 L281.9,298.1 L283.4,299.4 L284.9,300.7 L286.4,302.0 L287.9,303.3 L289.4,304.6 L290.9,305.8 L292.4,307.1 L293.9,308.4 L295.4,309.6 L296.9,310.9 L298.4,312.1 L299.9,313.3 L301.4,314.6 L302.9,315.8 L304.4,317.0 L305.9,318.2 L307.4,319.4 L308.9,320.6 L310.4,321.8 L311.9,323.0 L313.4,324.1 L314.9,325.3 L316.4,326.5 L317.9,327.6 L319.4,328.8 L320.9,329.9 L322.4,331.0 L323.9,332.2 L325.4,333.3 L326.9,334.4 L328.4,335.5 L329.9,336.6 L331.4,337.7 L332.9,338.8 L334.4,339.9 L335.9,341.0 L337.4,342.1 L338.9,343.1 L340.4,344.2 L341.9,345.3 L343.4,346.3 L344.9,347.3 L346.4,348.4 L347.9,349.4 L349.4,350.4 L350.9,351.5 L352.4,352.5 L353.9,353.5 L355.4,354.5 L356.9,355.5 L358.4,356.5 L359.9,357.4 L361.4,358.4 L362.9,359.4 L364.4,360.4 L365.9,361.3 L367.4,362.3 L368.9,363.2 L370.4,364.2 L371.9,365.1 L373.4,366.1 L374.9,367.0 L376.4,367.9 L377.9,368.9 L379.4,369.8 L380.9,370.7 L382.4,371.6 L383.9,372.5 L385.4,373.4 L386.9,374.3 L388.4,375.2 L389.9,376.1 L391.4,376.9 L392.9,377.8 L394.4,378.7 L395.9,379.5 L397.4,380.4 L398.9,381.3 L400.4,382.1 L401.9,382.9 L403.4,383.8 L404.9,384.6 L406.4,385.5 L407.9,386.3 L409.4,387.1 L410.9,387.9 L412.4,388.7 L413.9,389.6 L415.4,390.4 L416.9,391.2 L418.4,392.0 L419.9,392.8 L421.4,393.6 L422.9,394.3 L424.4,395.1 L425.9,395.9 L427.4,396.7 L428.9,397.4 L430.4,398.2 L431.9,399.0 L433.4,399.7 L434.9,400.5 L436.4,401.2 L437.9,402.0 L439.4,402.7 L440.9,403.5 L442.4,404.2 L443.9,404.9 L445.4,405.7 L446.9,406.4 L448.4,407.1 L449.9,407.8 L451.4,408.5 L452.9,409.2 L454.4,409.9 L455.9,410.6 L457.4,411.3 L458.9,412.0 L460.4,412.7 L461.9,413.4 L463.4,414.1 L464.9,414.8 L466.4,415.4 L467.9,416.1 L469.4,416.8 L470.9,417.4 L472.4,418.1 L473.9,418.8 L475.4,419.4 L476.9,420.1 L478.4,420.7 L479.9,421.3 L481.4,422.0 L482.9,422.6 L484.4,423.2 L485.9,423.9 L487.4,424.5 L488.9,425.1 L490.4,425.7 L491.9,426.3 L493.4,427.0 L494.9,427.6 L496.4,428.2 L497.9,428.8 L499.4,429.4 L500.9,429.9 L502.4,430.5 L503.9,431.1 L505.4,431.7 L506.9,432.3 L508.4,432.8 L509.9,433.4 L511.4,434.0 L512.9,434.5 L514.4,435.1 L515.9,435.7 L517.4,436.2 L518.9,436.8 L520.4,437.3 L521.9,437.9 L523.4,438.4 L524.9,438.9 L526.4,439.5 L527.9,440.0 L529.4,440.5 L530.9,441.0 L532.4,441.5 L533.9,442.1 L535.4,442.6 L536.9,443.1 L538.4,443.6 L539.9,444.1 L541.4,444.6 L542.9,445.1 L544.4,445.6 L545.9,446.1 L547.4,446.6 L548.9,447.0 L550.4,447.5 L551.9,448.0 L553.4,448.5 L554.9,448.9 L556.4,449.4 L557.9,449.9 L559.4,450.3 L560.9,450.8 L562.4,451.2 L563.9,451.7 L565.4,452.1 L566.9,452.6 L568.4,453.0 L569.9,453.5 L571.4,453.9 L572.9,454.3 L574.4,454.8 L575.9,455.2 L577.4,455.6 L578.9,456.0 L580.4,456.5 L581.9,456.9 L583.4,457.3 L584.9,457.7 L586.4,458.1 L587.9,458.5 L589.4,458.9 L590.9,459.3 L592.4,459.7 L593.9,460.1 L595.4,460.5 L596.9,460.9 L598.4,461.3 L599.9,461.7 L601.4,462.0 L602.9,462.4 L604.4,462.8 L605.9,463.2 L607.4,463.6 L608.9,463.9 L610.4,464.3 L611.9,464.7 L613.4,465.0 L614.9,465.4 L616.4,465.7 L617.9,466.1 L619.4,466.4 L620.9,466.8 L622.4,467.1 L623.9,467.5 L625.4,467.8 L626.9,468.2 L628.4,468.5 L629.9,468.8 L631.4,469.2 L632.9,469.5 L634.4,469.8 L635.9,470.2 L637.4,470.5 L638.9,470.8 L640.4,471.1 L641.9,471.5 L643.4,471.8 L644.9,472.1 L646.4,472.4 L647.9,472.7 L649.4,473.0 L650.9,473.3 L652.4,473.6 L653.9,473.9 L655.4,474.2 L656.9,474.5 L658.4,474.8 L659.9,475.1 L661.4,475.4 L662.9,475.7 L664.4,476.0 L665.9,476.3 L667.4,476.6 L668.9,476.9 L670.4,477.1 L671.9,477.4 L673.4,477.7 L674.9,478.0 L676.4,478.3 L677.9,478.5 L679.4,478.8 L680.9,479.1 L682.4,479.3 L683.9,479.6 L685.4,479.9 L686.9,480.1 L688.4,480.4 L689.9,480.7 L691.4,480.9 L692.9,481.2 L694.4,481.4 L695.9,481.7 L697.4,481.9 L698.9,482.2 L700.4,482.4 L701.9,482.7 L703.4,482.9 L704.9,483.2 L706.4,483.4 L707.9,483.7 L709.4,483.9 L710.9,484.1 L712.4,484.4 L713.9,484.6 L715.4,484.8 L716.9,485.1 L718.4,485.3 L719.9,485.5 L721.4,485.8 L722.9,486.0 L724.4,486.2 L725.9,486.4 L727.4,486.6 L728.9,486.9 L730.4,487.1 L731.9,487.3 L733.4,487.5 L734.9,487.7 L736.4,487.9 L737.9,488.1 L739.4,488.3 L740.9,488.6 L742.4,488.8 L743.9,489.0 L745.4,489.2 L746.9,489.4 L748.4,489.6 L749.9,489.8 L751.4,489.9 L752.9,490.1 L754.4,490.3 L755.9,490.5 L757.4,490.7 L758.9,490.9 L760.4,491.1 L761.9,491.3 L763.4,491.5 L764.9,491.6 L766.4,491.8 L767.9,492.0 L769.4,492.2 L770.9,492.4 L772.4,492.5 L773.9,492.7 L775.4,492.9 L776.9,493.1 L778.4,493.2 L779.9,493.4 L781.4,493.6 L782.9,493.7 L784.4,493.9 L785.9,494.1 L787.4,494.2 L788.9,494.4 L790.4,494.6 L791.9,494.7 L793.4,494.9 L794.9,495.0 L796.4,495.2 L797.9,495.3 L799.4,495.5 L800.9,495.7 L802.4,495.8 L803.9,496.0 L805.4,496.1 L806.9,496.3 L808.4,496.4 L809.9,496.6 L811.4,496.7 L812.9,496.9 L814.4,497.0 L815.9,497.1 L817.4,497.3 L818.9,497.4 L820.4,497.6 L821.9,497.7 L823.4,497.9 L824.9,498.0 L826.4,498.1 L827.9,498.3 L829.4,498.4 L830.9,498.5 L832.4,498.7 L833.9,498.8 L835.4,498.9 L836.9,499.1 L838.4,499.2 L839.9,499.3 L841.4,499.5 L842.9,499.6 L844.4,499.7 L845.9,499.9 L847.4,500.0 L848.9,500.1 L850.4,500.2 L851.9,500.4 L853.4,500.5 L854.9,500.6 L856.4,500.7 L857.9,500.9 L859.4,501.0 L860.9,501.1 L862.4,501.2 L863.9,501.3 L865.4,501.5 L866.9,501.6 L868.4,501.7 L869.9,501.8 L871.4,501.9 L872.9,502.0 L874.4,502.2 L875.9,502.3 L877.4,502.4 L878.9,502.5 L880.4,502.6 L881.9,502.7 L883.4,502.8 L884.9,502.9 L886.4,503.1 L887.9,503.2 L889.4,503.3 L890.9,503.4 L892.4,503.5 L893.9,503.6 L895.4,503.7 L896.9,503.8 L898.4,503.9 L899.9,504.0 L901.4,504.1 L902.9,504.2 L904.4,504.3 L905.9,504.4 L907.4,504.6 L908.9,504.7 L910.4,504.8 L911.9,504.9 L913.4,505.0 L914.9,505.1 L916.4,505.2 L917.9,505.3 L919.4,505.4 L920.9,505.5 L922.4,505.6 L923.9,505.6 L925.4,505.7 L926.9,505.8 L928.4,505.9 L929.9,506.0 L931.4,506.1 L932.9,506.2 L934.4,506.3 L935.9,506.4 L937.4,506.5 L938.9,506.6 L940.4,506.7 L941.9,506.8 L943.4,506.9 L944.9,507.0 L946.4,507.1 L947.9,507.2 L949.4,507.3 L950.9,507.4 L951.3,507.4" stroke="#ee00ee" stroke-width="2.6" fill="none" stroke-linejoin="round" stroke-dasharray="7.6 9.6" stroke-dashoffset="-1.29"/><path id="black_dashed" d="M124.4,104.5 L125.9,106.0 L127.4,107.3 L128.9,108.5 L130.4,109.7 L131.9,110.8 L133.4,112.0 L134.9,113.1 L136.4,114.1 L137.9,115.2 L139.4,116.3 L140.9,117.4 L142.4,118.5 L143.9,119.5 L145.4,120.6 L146.9,121.7 L148.4,122.8 L149.9,124.0 L151.4,125.1 L152.9,126.3 L154.4,127.4 L155.9,128.6 L157.4,129.8 L158.9,131.0 L160.4,132.2 L161.9,133.4 L163.4,134.6 L164.9,135.9 L166.4,137.1 L167.9,138.4 L169.4,139.7 L170.9,141.0 L172.4,142.2 L173.9,143.5 L175.4,144.8 L176.9,146.1 L178.4,147.4 L179.9,148.7 L181.4,150.0 L182.9,151.3 L184.4,152.6 L185.9,153.9 L187.4,155.2 L188.9,156.5 L190.4,157.8 L191.9,159.1 L193.4,160.4 L194.9,161.6 L196.4,162.9 L197.9,164.2 L199.4,165.5 L200.9,166.8 L202.4,168.1 L203.9,169.3 L205.4,170.6 L206.9,171.9 L208.4,173.2 L209.9,174.5 L211.4,175.8 L212.9,177.1 L214.4,178.4 L215.9,179.7 L217.4,181.0 L218.9,182.3 L220.4,183.6 L221.9,184.9 L223.4,186.2 L224.9,187.5 L226.4,188.8 L227.9,190.1 L229.4,191.4 L230.9,192.7 L232.4,194.0 L233.9,195.4 L235.4,196.7 L236.9,198.0 L238.4,199.3 L239.9,200.6 L241.4,201.9 L242.9,203.3 L244.4,204.6 L245.9,205.9 L247.4,207.2 L248.9,208.6 L250.4,209.9 L251.9,211.2 L253.4,212.6 L254.9,213.9 L256.4,215.2 L257.9,216.6 L259.4,217.9 L260.9,219.2 L262.4,220.5 L263.9,221.9 L265.4,223.2 L266.9,224.5 L268.4,225.8 L269.9,227.1 L271.4,228.4 L272.9,229.7 L274.4,231.0 L275.9,232.3 L277.4,233.6 L278.9,234.9 L280.4,236.2 L281.9,237.5 L283.4,238.8 L284.9,240.1 L286.4,241.4 L287.9,242.7 L289.4,244.0 L290.9,245.2 L292.4,246.5 L293.9,247.8 L295.4,249.1 L296.9,250.4 L298.4,251.6 L299.9,252.9 L301.4,254.2 L302.9,255.4 L304.4,256.7 L305.9,258.0 L307.4,259.2 L308.9,260.5 L310.4,261.7 L311.9,263.0 L313.4,264.2 L314.9,265.5 L316.4,266.7 L317.9,267.9 L319.4,269.1 L320.9,270.4 L322.4,271.6 L323.9,272.8 L325.4,274.0 L326.9,275.2 L328.4,276.4 L329.9,277.6 L331.4,278.8 L332.9,280.0 L334.4,281.2 L335.9,282.4 L337.4,283.6 L338.9,284.8 L340.4,285.9 L341.9,287.1 L343.4,288.3 L344.9,289.4 L346.4,290.6 L347.9,291.8 L349.4,292.9 L350.9,294.1 L352.4,295.2 L353.9,296.4 L355.4,297.5 L356.9,298.7 L358.4,299.8 L359.9,300.9 L361.4,302.1 L362.9,303.2 L364.4,304.3 L365.9,305.4 L367.4,306.5 L368.9,307.7 L370.4,308.8 L371.9,309.9 L373.4,311.0 L374.9,312.1 L376.4,313.2 L377.9,314.3 L379.4,315.4 L380.9,316.5 L382.4,317.5 L383.9,318.6 L385.4,319.7 L386.9,320.8 L388.4,321.8 L389.9,322.9 L391.4,324.0 L392.9,325.0 L394.4,326.1 L395.9,327.2 L397.4,328.2 L398.9,329.3 L400.4,330.3 L401.9,331.4 L403.4,332.4 L404.9,333.4 L406.4,334.5 L407.9,335.5 L409.4,336.5 L410.9,337.5 L412.4,338.5 L413.9,339.6 L415.4,340.6 L416.9,341.6 L418.4,342.6 L419.9,343.6 L421.4,344.6 L422.9,345.6 L424.4,346.6 L425.9,347.6 L427.4,348.5 L428.9,349.5 L430.4,350.5 L431.9,351.5 L433.4,352.4 L434.9,353.4 L436.4,354.4 L437.9,355.3 L439.4,356.3 L440.9,357.2 L442.4,358.2 L443.9,359.1 L445.4,360.1 L446.9,361.0 L448.4,361.9 L449.9,362.9 L451.4,363.8 L452.9,364.7 L454.4,365.6 L455.9,366.5 L457.4,367.4 L458.9,368.3 L460.4,369.2 L461.9,370.1 L463.4,371.0 L464.9,371.9 L466.4,372.8 L467.9,373.7 L469.4,374.5 L470.9,375.4 L472.4,376.3 L473.9,377.1 L475.4,378.0 L476.9,378.9 L478.4,379.7 L479.9,380.6 L481.4,381.4 L482.9,382.2 L484.4,383.1 L485.9,383.9 L487.4,384.7 L488.9,385.6 L490.4,386.4 L491.9,387.2 L493.4,388.0 L494.9,388.8 L496.4,389.6 L497.9,390.4 L499.4,391.2 L500.9,392.0 L502.4,392.8 L503.9,393.5 L505.4,394.3 L506.9,395.1 L508.4,395.8 L509.9,396.6 L511.4,397.4 L512.9,398.1 L514.4,398.9 L515.9,399.6 L517.4,400.3 L518.9,401.1 L520.4,401.8 L521.9,402.5 L523.4,403.3 L524.9,404.0 L526.4,404.7 L527.9,405.4 L529.4,406.1 L530.9,406.8 L532.4,407.5 L533.9,408.2 L535.4,408.9 L536.9,409.6 L538.4,410.2 L539.9,410.9 L541.4,411.6 L542.9,412.3 L544.4,412.9 L545.9,413.6 L547.4,414.2 L548.9,414.9 L550.4,415.5 L551.9,416.2 L553.4,416.8 L554.9,417.5 L556.4,418.1 L557.9,418.7 L559.4,419.4 L560.9,420.0 L562.4,420.6 L563.9,421.2 L565.4,421.8 L566.9,422.4 L568.4,423.0 L569.9,423.6 L571.4,424.2 L572.9,424.8 L574.4,425.4 L575.9,426.0 L577.4,426.6 L578.9,427.2 L580.4,427.7 L581.9,428.3 L583.4,428.9 L584.9,429.5 L586.4,430.0 L587.9,430.6 L589.4,431.1 L590.9,431.7 L592.4,432.3 L593.9,432.8 L595.4,433.3 L596.9,433.9 L598.4,434.4 L599.9,435.0 L601.4,435.5 L602.9,436.0 L604.4,436.6 L605.9,437.1 L607.4,437.6 L608.9,438.1 L610.4,438.6 L611.9,439.2 L613.4,439.7 L614.9,440.2 L616.4,440.7 L617.9,441.2 L619.4,441.7 L620.9,442.2 L622.4,442.7 L623.9,443.2 L625.4,443.6 L626.9,444.1 L628.4,444.6 L629.9,445.1 L631.4,445.6 L632.9,446.0 L634.4,446.5 L635.9,447.0 L637.4,447.5 L638.9,447.9 L640.4,448.4 L641.9,448.8 L643.4,449.3 L644.9,449.8 L646.4,450.2 L647.9,450.7 L649.4,451.1 L650.9,451.6 L652.4,452.0 L653.9,452.4 L655.4,452.9 L656.9,453.3 L658.4,453.7 L659.9,454.2 L661.4,454.6 L662.9,455.0 L664.4,455.4 L665.9,455.9 L667.4,456.3 L668.9,456.7 L670.4,457.1 L671.9,457.5 L673.4,457.9 L674.9,458.3 L676.4,458.7 L677.9,459.1 L679.4,459.5 L680.9,459.9 L682.4,460.3 L683.9,460.7 L685.4,461.1 L686.9,461.5 L688.4,461.8 L689.9,462.2 L691.4,462.6 L692.9,463.0 L694.4,463.3 L695.9,463.7 L697.4,464.1 L698.9,464.4 L700.4,464.8 L701.9,465.1 L703.4,465.5 L704.9,465.8 L706.4,466.2 L707.9,466.5 L709.4,466.9 L710.9,467.2 L712.4,467.6 L713.9,467.9 L715.4,468.2 L716.9,468.6 L718.4,468.9 L719.9,469.2 L721.4,469.6 L722.9,469.9 L724.4,470.2 L725.9,470.5 L727.4,470.8 L728.9,471.2 L730.4,471.5 L731.9,471.8 L733.4,472.1 L734.9,472.4 L736.4,472.7 L737.9,473.0 L739.4,473.3 L740.9,473.6 L742.4,473.9 L743.9,474.2 L745.4,474.5 L746.9,474.8 L748.4,475.1 L749.9,475.3 L751.4,475.6 L752.9,475.9 L754.4,476.2 L755.9,476.5 L757.4,476.8 L758.9,477.0 L760.4,477.3 L761.9,477.6 L763.4,477.8 L764.9,478.1 L766.4,478.4 L767.9,478.6 L769.4,478.9 L770.9,479.2 L772.4,479.4 L773.9,479.7 L775.4,480.0 L776.9,480.2 L778.4,480.5 L779.9,480.7 L781.4,481.0 L782.9,481.2 L784.4,481.5 L785.9,481.7 L787.4,482.0 L788.9,482.2 L790.4,482.5 L791.9,482.7 L793.4,483.0 L794.9,483.2 L796.4,483.5 L797.9,483.7 L799.4,483.9 L800.9,484.2 L802.4,484.4 L803.9,484.6 L805.4,484.9 L806.9,485.1 L808.4,485.3 L809.9,485.6 L811.4,485.8 L812.9,486.0 L814.4,486.2 L815.9,486.5 L817.4,486.7 L818.9,486.9 L820.4,487.1 L821.9,487.3 L823.4,487.6 L824.9,487.8 L826.4,488.0 L827.9,488.2 L829.4,488.4 L830.9,488.6 L832.4,488.8 L833.9,489.0 L835.4,489.3 L836.9,489.5 L838.4,489.7 L839.9,489.9 L841.4,490.1 L842.9,490.3 L844.4,490.5 L845.9,490.7 L847.4,490.9 L848.9,491.1 L850.4,491.3 L851.9,491.5 L853.4,491.7 L854.9,491.8 L856.4,492.0 L857.9,492.2 L859.4,492.4 L860.9,492.6 L862.4,492.8 L863.9,493.0 L865.4,493.2 L866.9,493.3 L868.4,493.5 L869.9,493.7 L871.4,493.9 L872.9,494.1 L874.4,494.2 L875.9,494.4 L877.4,494.6 L878.9,494.7 L880.4,494.9 L881.9,495.1 L883.4,495.3 L884.9,495.4 L886.4,495.6 L887.9,495.8 L889.4,495.9 L890.9,496.1 L892.4,496.2 L893.9,496.4 L895.4,496.6 L896.9,496.7 L898.4,496.9 L899.9,497.0 L901.4,497.2 L902.9,497.3 L904.4,497.5 L905.9,497.6 L907.4,497.8 L908.9,498.0 L910.4,498.1 L911.9,498.2 L913.4,498.4 L914.9,498.5 L916.4,498.7 L917.9,498.8 L919.4,499.0 L920.9,499.1 L922.4,499.3 L923.9,499.4 L925.4,499.6 L926.9,499.7 L928.4,499.8 L929.9,500.0 L931.4,500.1 L932.9,500.3 L934.4,500.4 L935.9,500.5 L937.4,500.7 L938.9,500.8 L940.4,501.0 L941.9,501.1 L943.4,501.2 L944.9,501.4 L946.4,501.5 L947.9,501.7 L949.4,501.8 L950.9,501.9 L951.3,502.0" stroke="#000000" stroke-width="2.6" fill="none" stroke-linejoin="round" stroke-dasharray="7.6 9.6" stroke-dashoffset="-1.76"/><line x1="264.8" y1="408.2" x2="462" y2="174" stroke="#4a4a4a" stroke-width="1.6"/><polygon points="480.7,151.7 453.4,169.8 461.1,173.4 466.4,181.3" fill="#000"/><line x1="326" y1="62.8" x2="435" y2="61.2" stroke="#444" stroke-width="2"/><line x1="370" y1="117.8" x2="500.5" y2="116.6" stroke="#f46a6a" stroke-width="2.2" stroke-dasharray="8.7 8.54"/><circle cx="899.3" cy="216.4" r="0.7" fill="#888"/><text id="leg1" transform="translate(444.90,78.50) scale(1.0057,1.0350)" font-size="40.5"><tspan fill="#ff00ff">SWCNTs+MWCNT/</tspan><tspan fill="#e80000">Blood</tspan><tspan fill="#000" dx="1.9">.</tspan></text><text id="leg2" transform="translate(508.60,128.60) scale(1.0236,1.0350)" font-size="40.0"><tspan fill="#ff00ff">SWCNTs/</tspan><tspan fill="#e80000">Blood</tspan><tspan fill="#000" dx="-0.8">.</tspan></text><g id="ann" fill="#000"><text transform="translate(482.50,214.50) scale(1.1200,1.0350)" font-size="38" font-style="italic">&#981;</text><text transform="translate(505.50,221.80) scale(0.9500,1.0350)" font-size="26">1</text><text transform="translate(527.30,218.30) scale(1.0000,1.0350)" font-size="31">+</text><text transform="translate(567.00,214.50) scale(1.1200,1.0350)" font-size="38" font-style="italic">&#981;</text><text transform="translate(589.30,221.80) scale(1.1800,1.0350)" font-size="26">2</text><text transform="translate(616.50,218.50) scale(1.0800,1.0350)" font-size="40">=</text><text transform="translate(652.00,212.20) scale(1.0000,1.0350)" font-size="28" font-weight="bold">0.01,0.02,0.03.</text></g><text id="yl0" transform="translate(101.30,526.90) scale(1.0000,1.0350)" font-size="39.4" text-anchor="end" fill="#000">0.0</text><text id="yl2" transform="translate(101.30,446.00) scale(1.0000,1.0350)" font-size="39.4" text-anchor="end" fill="#000">0.2</text><text id="yl4" transform="translate(101.30,362.40) scale(1.0000,1.0350)" font-size="39.4" text-anchor="end" fill="#000">0.4</text><text id="yl6" transform="translate(101.30,279.40) scale(1.0000,1.0350)" font-size="39.4" text-anchor="end" fill="#000">0.6</text><text id="yl8" transform="translate(101.30,198.60) scale(1.0000,1.0350)" font-size="39.4" text-anchor="end" fill="#000">0.8</text><text id="yl10" transform="translate(101.30,115.30) scale(1.0000,1.0350)" font-size="39.4" text-anchor="end" fill="#000">1.0</text><text id="yl12" transform="translate(101.30,32.10) scale(1.0000,1.0350)" font-size="39.4" text-anchor="end" fill="#000">1.2</text><text id="xl0" transform="translate(123.55,574.80) scale(1.0000,1.0350)" font-size="40" text-anchor="middle" fill="#000">0</text><text id="xl1" transform="translate(288.70,574.80) scale(0.8500,1.0350)" font-size="40" text-anchor="middle" fill="#000">1</text><text id="xl2" transform="translate(453.30,574.80) scale(1.0000,1.0350)" font-size="40" text-anchor="middle" fill="#000">2</text><text id="xl3" transform="translate(618.20,574.80) scale(0.9300,1.0350)" font-size="40" text-anchor="middle" fill="#000">3</text><text id="xl4" transform="translate(783.10,574.80) scale(0.9400,1.0350)" font-size="40" text-anchor="middle" fill="#000">4</text><text id="xl5" transform="translate(949.10,574.80) scale(0.8800,1.0350)" font-size="40" text-anchor="middle" fill="#000">5</text><text id="xlab" transform="translate(536.00,629.60) scale(1.1300,0.9300)" font-size="40" text-anchor="middle" fill="#000" font-style="italic">&#951;</text><g id="ylab" fill="#000" font-size="40"><text transform="translate(30.9,302.6) rotate(-90) scale(0.86,1)" font-size="32">&#934;</text><text transform="translate(31.5,279.1) rotate(-90)"><tspan>(</tspan><tspan font-style="italic">&#951;</tspan><tspan>)</tspan></text></g></g></svg></body></html>
